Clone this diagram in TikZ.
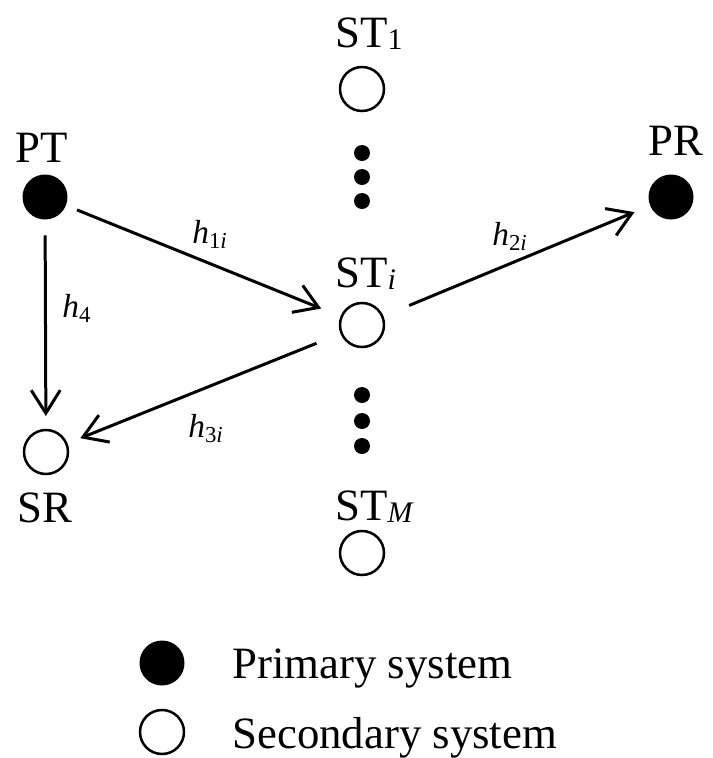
\documentclass[tikz,border=0pt]{standalone}
\usepackage{fontspec}
\setmainfont{Liberation Serif}
\usetikzlibrary{arrows.meta}
\newcommand{\stsub}[1]{\raisebox{-1.5pt}{\fontsize{17}{17}\selectfont #1}}
\newcommand{\hlab}[1]{\textit{h}\raisebox{-3pt}{\fontsize{13}{14}\selectfont #1}}
\begin{document}
\begin{tikzpicture}[x=0.02cm,y=-0.02cm,
  opennode/.style={circle,draw=black,line width=0.05cm,minimum size=0.88cm,inner sep=0pt,outer sep=0pt},
  fillnode/.style={circle,fill=black,minimum size=0.9cm,inner sep=0pt,outer sep=0pt},
  dotnode/.style={circle,fill=black,minimum size=0.32cm,inner sep=0pt,outer sep=0pt},
  lab/.style={anchor=base west,inner sep=0pt,font=\fontsize{25.5}{30}\selectfont},
  hl/.style={anchor=base west,inner sep=0pt,font=\fontsize{19}{22}\selectfont},
  link/.style={line width=0.06cm,-{Straight Barb[length=0.46cm,width=0.58cm,line width=0.06cm]}}
]
\useasboundingbox (0,0) rectangle (713,758);
% nodes
\node[fillnode] (PT) at (45,197) {};
\node[opennode] (SR) at (46,452) {};
\node[opennode] (ST1) at (362,89) {};
\node[opennode] (STi) at (362,325) {};
\node[opennode] (STM) at (362,553) {};
\node[fillnode] (PR) at (671,197) {};
% dots
\node[dotnode] (d1) at (362,153) {};
\node[dotnode] (d2) at (362,177) {};
\node[dotnode] (d3) at (362,201) {};
\node[dotnode] (d4) at (362,395) {};
\node[dotnode] (d5) at (362,421) {};
\node[dotnode] (d6) at (362,446) {};
% labels
\node[lab] (lPT) at (15,162) {PT};
\node[lab] (lSR) at (17,522) {SR};
\node[lab] (lPR) at (648,155) {PR};
\node[lab] (lST1) at (335,47) {ST\stsub{1}};
\node[lab] (lSTi) at (335,287) {ST\stsub{\itshape i}};
\node[lab] (lSTM) at (335,520) {ST\stsub{\itshape M}};
% arrows
\draw[link,shorten <=0.32cm,shorten >=0.28cm] (PT) -- (SR);
\draw[link,shorten <=0.24cm,shorten >=0.44cm] (PT) -- (STi);
\draw[link,shorten <=0.54cm,shorten >=0.30cm] (STi) -- (SR);
\draw[link,shorten <=0.58cm,shorten >=0.34cm] (STi) -- (PR);
% channel labels
\node[hl] (h1) at (192,243) {\hlab{1\itshape i}};
\node[hl] (h4) at (62,317) {\hlab{4}};
\node[hl] (h3) at (188,437) {\hlab{3\itshape i}};
\node[hl] (h2) at (492,245) {\hlab{2\itshape i}};
% legend
\node[fillnode] (legP) at (162,663) {};
\node[opennode] (legS) at (162,732) {};
\node[lab] (legPt) at (232,678) {Primary system};
\node[lab] (legSt) at (232,748) {Secondary system};
\end{tikzpicture}
\end{document}
